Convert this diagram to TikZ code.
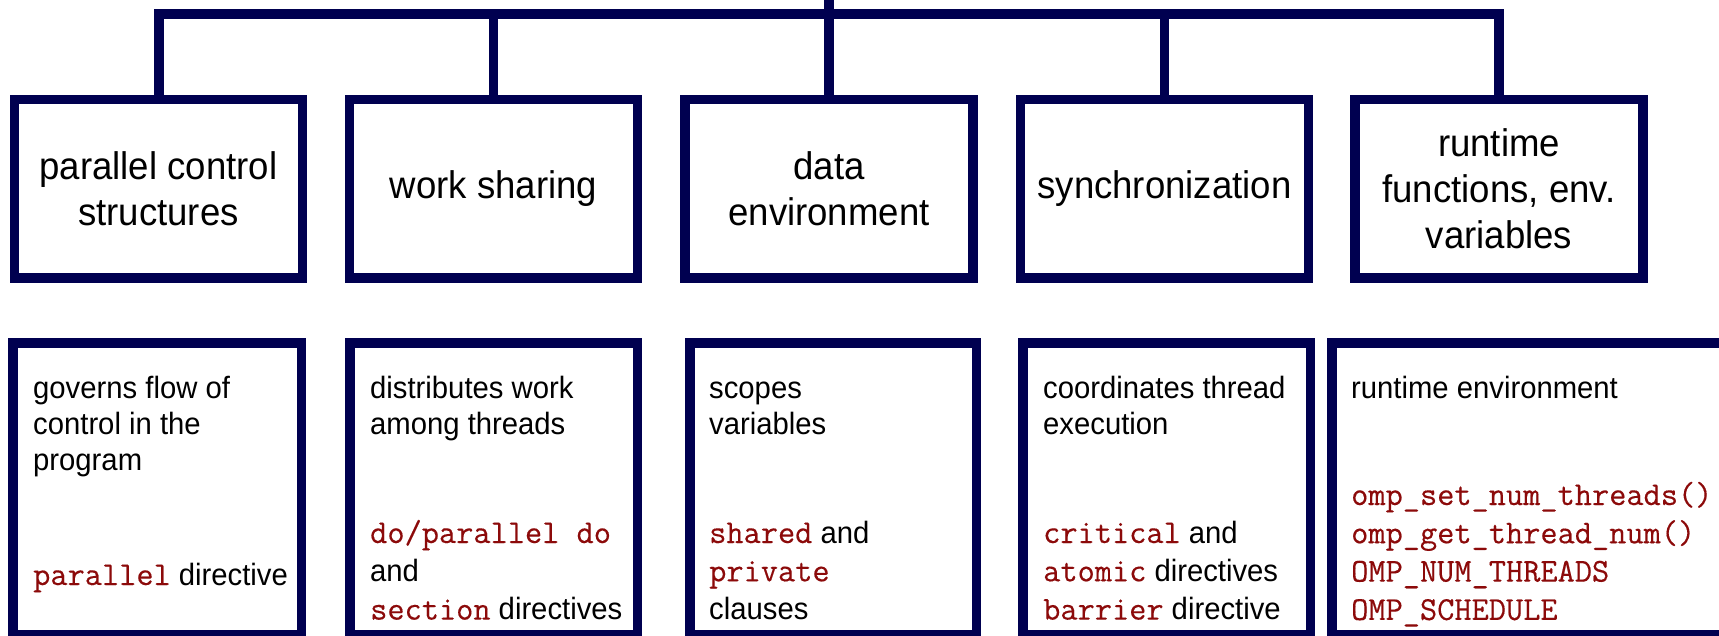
\documentclass[tikz,border=0pt]{standalone}
\usepackage{fontspec}
\setmainfont{Liberation Sans}
\newfontfamily\labelfont[FakeStretch=0.95]{Liberation Sans}
\newfontfamily\codefont[FakeBold=0.3]{Latin Modern Mono}
\definecolor{navy}{RGB}{0,0,80}
\definecolor{codered}{RGB}{140,10,10}
% code keywords in a typewriter face
\newcommand\kwd[1]{{\codefont\fontsize{33.4}{38}\selectfont\color{codered}#1}}
% left-aligned stack of lines whose baseline is the first line
\newcommand\textlines[1]{\vtop{\halign{##\hfil\cr#1\crcr}}}

\begin{document}
\begin{tikzpicture}[x=1pt,y=-1pt,
  box/.style={draw=navy, line width=9.5pt, rectangle, inner sep=0pt, outer sep=0pt, fill=white},
  topbox/.style={box, minimum width=288pt, minimum height=178.5pt, align=center,
    font=\labelfont\fontsize{38.5}{46}\selectfont},
  lowbox/.style={box, minimum height=292pt},
  desc/.style={anchor=base west, inner sep=0pt, font=\labelfont\fontsize{30.8}{36}\selectfont},
  codes/.style={desc, font=\labelfont\fontsize{30.8}{38.3}\selectfont},
  wire/.style={draw=navy, line width=9.5pt, line join=miter}]

\useasboundingbox (0,0) rectangle (1719,636);
\clip (0,0) rectangle (1719,636);
\fill[white] (0,0) rectangle (1719,636);

% category boxes
\node[topbox] (t1) at (158.5,189) {parallel control\\structures};
\node[topbox] (t2) at (493.5,189) {work sharing};
\node[topbox] (t3) at (829,189) {data\\environment};
\node[topbox] (t4) at (1164.5,189) {synchronization};
\node[topbox] (t5) at (1499,189) {runtime\\functions, env.\\variables};

% tree connectors
\coordinate (busmid) at (829,14.3);
\coordinate (root) at (829,-10);
\draw[wire, line width=10pt] (t1.north) -- (t1.north |- busmid) -- (t5.north |- busmid) -- (t5.north);
\foreach \n in {t2,t4} \draw[wire] (\n.north) -- (\n.north |- busmid);
\draw[wire] (root) -- (t3.north);

% description boxes
\node[lowbox, minimum width=288.5pt] (b1) at (157,488.75) {};
\node[lowbox, minimum width=287.5pt] (b2) at (493.5,488.75) {};
\node[lowbox, minimum width=286.5pt] (b3) at (833,488.75) {};
\node[lowbox, minimum width=287.5pt] (b4) at (1166.5,488.75) {};
\node[lowbox, minimum width=420pt] (b5) at (1541.75,488.75) {};

% descriptions
\node[desc] (d1) at (33,398) {\textlines{governs flow of\cr control in the\cr program}};
\node[desc] (d2) at (370,398) {\textlines{distributes work\cr among threads}};
\node[desc] (d3) at (709,398) {\textlines{scopes\cr variables}};
\node[desc] (d4) at (1043,398) {\textlines{coordinates thread\cr execution}};
\node[desc] (d5) at (1351,398) {runtime environment};

% constructs
\node[codes] (c1) at (33,585) {\kwd{parallel} directive};
\node[codes] (c2) at (370,543) {\textlines{\kwd{do/parallel do}\cr and\cr \kwd{section} directives}};
\node[codes] (c3) at (709,543) {\textlines{\kwd{shared} and\cr \kwd{private}\cr clauses}};
\node[codes] (c4) at (1043,543) {\textlines{\kwd{critical} and\cr \kwd{atomic} directives\cr \kwd{barrier} directive}};
\node[codes] (c5) at (1351,505) {\textlines{\kwd{omp\_set\_num\_threads()}\cr \kwd{omp\_get\_thread\_num()}\cr \kwd{OMP\_NUM\_THREADS}\cr \kwd{OMP\_SCHEDULE}}};
\end{tikzpicture}
\end{document}
